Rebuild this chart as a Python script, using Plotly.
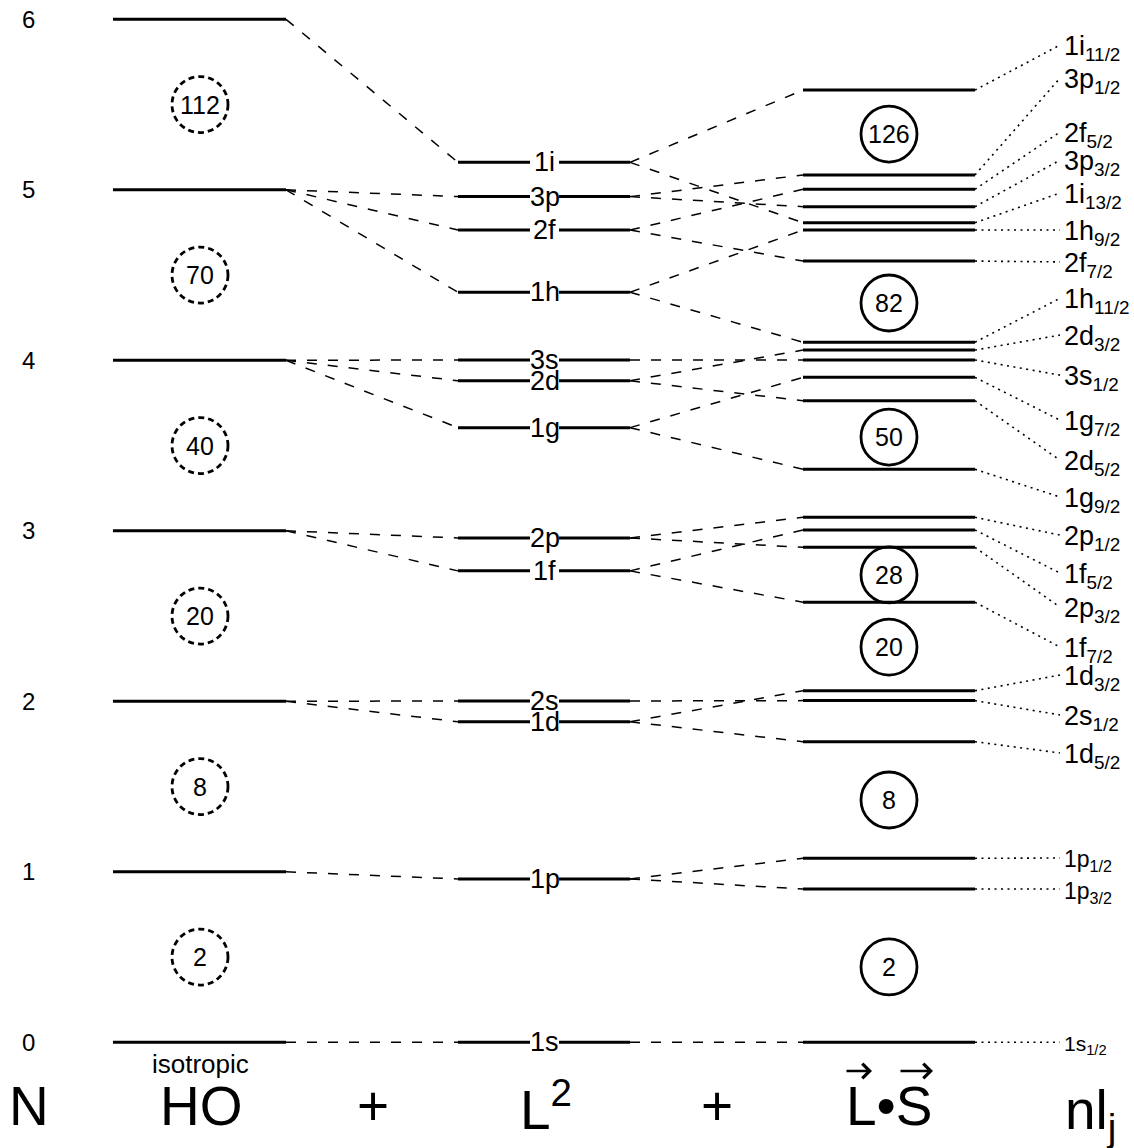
import plotly.graph_objects as go

# ---------------- data ----------------
ho_N = [0, 1, 2, 3, 4, 5, 6]
ho_magic = [2, 8, 20, 40, 70, 112]
ho_magic_E = [0.5, 1.5, 2.5, 3.5, 4.5, 5.5]

l2_names = ["1s", "1p", "1d", "2s", "1f", "2p", "1g", "2d", "3s", "1h", "2f", "3p", "1i"]
l2_parentN = [0, 1, 2, 2, 3, 3, 4, 4, 4, 5, 5, 5, 6]
l2_E = [0.0, 0.958, 1.880, 2.002, 2.765, 2.958, 3.605, 3.880, 4.002, 4.399, 4.764, 4.960, 5.161]

ls_l = ["1s", "1p", "1p", "1d", "2s", "1d", "1f", "2p", "1f", "2p", "1g", "2d",
        "1g", "3s", "2d", "1h", "2f", "1h", "1i", "3p", "2f", "3p", "1i"]
ls_j = ["1/2", "3/2", "1/2", "5/2", "1/2", "3/2", "7/2", "3/2", "5/2", "1/2", "9/2", "5/2",
        "7/2", "1/2", "3/2", "11/2", "7/2", "9/2", "13/2", "3/2", "5/2", "1/2", "11/2"]
ls_E = [0.0, 0.899, 1.079, 1.763, 2.004, 2.062, 2.581, 2.903, 3.005, 3.079, 3.361, 3.763,
        3.900, 4.002, 4.060, 4.106, 4.582, 4.764, 4.807, 4.901, 5.003, 5.087, 5.585]
ls_label_E = [0.0, 0.899, 1.081, 1.697, 1.920, 2.154, 2.318, 2.552, 2.752, 2.975, 3.198, 3.414,
              3.649, 3.913, 4.148, 4.364, 4.577, 4.764, 4.981, 5.174, 5.339, 5.655, 5.849]

ls_magic = [2, 8, 20, 28, 50, 82, 126]
ls_magic_E = [0.442, 1.421, 2.318, 2.741, 3.550, 4.336, 5.327]

bottom_labels = ["N", "HO", "+", "L<sup>2</sup>", "+", "L•S", "nl<sub>j</sub>"]

# ---------------- layout constants ----------------
W, H = 1134, 1148
Y0PIX, PPU = 1042.3, 170.5          # pixel of E=0, pixels per unit


def pix2E(p):
    return (Y0PIX - p) / PPU


HO_X = (113, 286)
L2_X = (458, 630)
L2_GAP = (530, 559)
LS_X = (803, 975)
LAB_X = 1060
FONT = "Liberation Sans, Arial, Helvetica, sans-serif"

fig = go.Figure()


def seg_trace(xs, ys, width, dash="solid"):
    fig.add_trace(go.Scatter(x=xs, y=ys, mode="lines",
                             line=dict(color="black", width=width, dash=dash),
                             hoverinfo="skip", showlegend=False))


# connectors first (below levels)
xs, ys = [], []
for i, n in enumerate(l2_parentN):
    xs += [HO_X[1], L2_X[0], None]
    ys += [n, l2_E[i], None]
for k, name in enumerate(ls_l):
    p = l2_names.index(name)
    xs += [L2_X[1], LS_X[0], None]
    ys += [l2_E[p], ls_E[k], None]
seg_trace(xs, ys, 1.5, "10px,11px")

xs, ys = [], []
for k in range(len(ls_E)):
    xs += [LS_X[1], LAB_X, None]
    ys += [ls_E[k], ls_label_E[k], None]
seg_trace(xs, ys, 1.6, "2px,4.5px")

# levels
for xr, vals in [(HO_X, ho_N), (LS_X, ls_E)]:
    xs, ys = [], []
    for v in vals:
        xs += [xr[0], xr[1], None]
        ys += [v, v, None]
    seg_trace(xs, ys, 3)
xs, ys = [], []
for v in l2_E:
    xs += [L2_X[0], L2_GAP[0], None, L2_GAP[1], L2_X[1], None]
    ys += [v, v, None, v, v, None]
seg_trace(xs, ys, 3)

ann = []
shapes = []

# left N numbers
for n in ho_N:
    ann.append(dict(x=28, y=n, text=str(n), showarrow=False, xanchor="center",
                    yanchor="middle", font=dict(size=24, family=FONT, color="black")))

# L2 labels in the gap of the lines
for name, e in zip(l2_names, l2_E):
    ann.append(dict(x=(L2_GAP[0] + L2_GAP[1]) / 2, y=e, text=name, showarrow=False,
                    xanchor="center", yanchor="middle",
                    font=dict(size=27, family=FONT, color="black")))

# right nlj labels
for name, j, e in zip(ls_l, ls_j, ls_label_E):
    size = 21 if name == "1s" else (23 if name == "1p" else 27)
    ann.append(dict(x=LAB_X + 2, y=e, text=f"{name}<sub>{j}</sub>", showarrow=False,
                    xanchor="left", yanchor="middle", yshift=-3,
                    font=dict(size=size, family=FONT, color="black")))

# magic number circles
R = 28
for vals, es, cx, dash in [(ho_magic, ho_magic_E, 200, "6px,4px"),
                           (ls_magic, ls_magic_E, 889, "solid")]:
    for m, e in zip(vals, es):
        shapes.append(dict(type="circle", xref="x", yref="y", xsizemode="pixel",
                           ysizemode="pixel", xanchor=cx, yanchor=e,
                           x0=-R, x1=R, y0=-R, y1=R,
                           line=dict(color="black", width=2.8, dash=dash)))
        ann.append(dict(x=cx, y=e, text=str(m), showarrow=False, xanchor="center",
                        yanchor="middle", font=dict(size=25, family=FONT, color="black")))

# "isotropic"
ann.append(dict(x=200, y=pix2E(1064), text="isotropic", showarrow=False,
                xanchor="center", yanchor="middle",
                font=dict(size=26, family=FONT, color="black")))

# bottom row
bx = [29, 201, 373, 546, 717, 889, 1063]
yb = pix2E(1106)
for i, (t, x) in enumerate(zip(bottom_labels, bx)):
    ann.append(dict(x=x, y=yb, text=t, showarrow=False,
                    xanchor="left" if i == len(bx) - 1 else "center", yanchor="middle",
                    yshift=-8 if i == len(bx) - 1 else 0,
                    font=dict(size=55, family=FONT, color="black")))
# vector arrows over L and S (drawn as annotation arrows)
for x_head, length in ((872, 27), (933, 34)):
    ann.append(dict(x=x_head, y=pix2E(1071), xref="x", yref="y", text="",
                    showarrow=True, ax=-length, ay=0, arrowhead=4, arrowsize=1.1,
                    arrowwidth=2.6, arrowcolor="black", standoff=0, startstandoff=0))

fig.update_layout(
    width=W, height=H, margin=dict(l=0, r=0, t=0, b=0),
    paper_bgcolor="white", plot_bgcolor="white",
    xaxis=dict(range=[0, W], visible=False, fixedrange=True),
    yaxis=dict(range=[pix2E(H), pix2E(0)], visible=False, fixedrange=True),
    annotations=ann, shapes=shapes, showlegend=False,
)

fig.write_html("out.html")
